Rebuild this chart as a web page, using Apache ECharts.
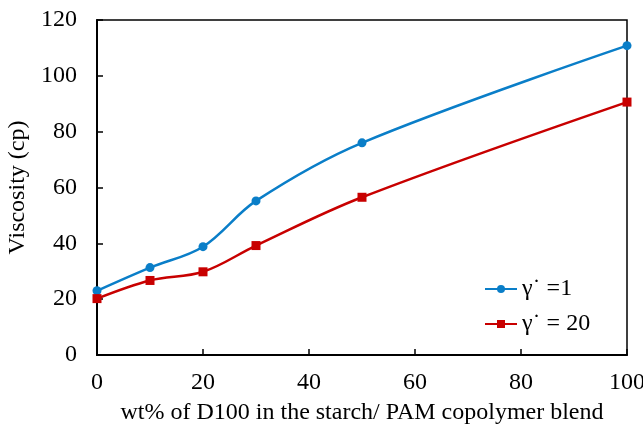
<!DOCTYPE html>
<html>
<head>
<meta charset="utf-8">
<script src="https://cdn.jsdelivr.net/npm/echarts@6/dist/echarts.min.js"></script>
<style>html,body{margin:0;padding:0;background:#fff}#c{width:643px;height:427px}</style>
</head>
<body>
<div id="c"></div>
<script>
const xValues = [0, 10, 20, 30, 50, 100];
const shear1 = [23, 31.3, 38.8, 55.2, 76, 110.8];
const shear20 = [20.2, 26.7, 29.8, 39.2, 56.5, 90.6];
const seriesNames = ['γ˙ =1', 'γ˙ = 20'];
const xTitle = 'wt% of D100 in the starch/ PAM copolymer blend';
const yTitle = 'Viscosity (cp)';

const font = '"Liberation Serif", "Times New Roman", serif';
const chart = echarts.init(document.getElementById('c'));
const pair = (xs, ys) => xs.map((x, i) => [x, ys[i]]);
chart.setOption({
  animation: false,
  backgroundColor: '#fff',
  grid: { left: 97, right: 16, top: 20, bottom: 72, outerBoundsMode: 'none', containLabel: false,
          show: true, borderColor: '#000', borderWidth: 1.5 },
  xAxis: {
    type: 'value', min: 0, max: 100, interval: 20,
    name: xTitle, nameLocation: 'middle', nameGap: 46,
    nameTextStyle: { fontFamily: font, fontSize: 24, color: '#000' },
    axisLine: { show: true, onZero: false, lineStyle: { color: '#000', width: 2 } },
    axisTick: { show: true, inside: true, length: 6, lineStyle: { color: '#000', width: 1.5 } },
    axisLabel: { fontFamily: font, fontSize: 24, color: '#000', margin: 16 },
    splitLine: { show: false }
  },
  yAxis: {
    type: 'value', min: 0, max: 120, interval: 20,
    name: yTitle, nameLocation: 'middle', nameGap: 56,
    nameTextStyle: { fontFamily: font, fontSize: 24, color: '#000' },
    axisLine: { show: true, lineStyle: { color: '#000', width: 2 } },
    axisTick: { show: true, inside: true, length: 6, lineStyle: { color: '#000', width: 1.5 } },
    axisLabel: { fontFamily: font, fontSize: 24, color: '#000', margin: 20 },
    splitLine: { show: false }
  },
  legend: {
    orient: 'vertical', left: 479, top: 272, itemGap: 11,
    itemWidth: 32, itemHeight: 10,
    textStyle: { fontFamily: font, fontSize: 24, color: '#000' },
    data: seriesNames
  },
  series: [
    { name: seriesNames[0], type: 'line', smooth: 0.35, data: pair(xValues, shear1),
      symbol: 'circle', symbolSize: 9, color: '#0a7ec8', lineStyle: { width: 2.5 } },
    { name: seriesNames[1], type: 'line', smooth: 0.35, data: pair(xValues, shear20),
      symbol: 'rect', symbolSize: 9, color: '#c80000', lineStyle: { width: 2.5 } }
  ]
});
</script>
</body>
</html>
